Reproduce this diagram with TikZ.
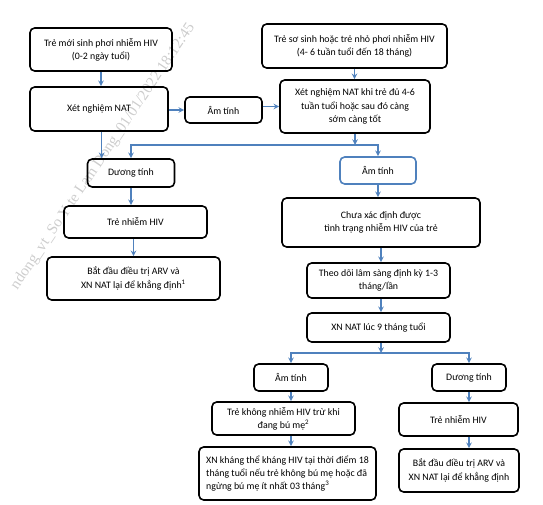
\documentclass[tikz,border=0pt]{standalone}
\usepackage{fontspec}
\setmainfont{Carlito}
\newfontfamily\wmfont{Liberation Serif}
\usepackage{tikz}
\usetikzlibrary{arrows,positioning}
\definecolor{arrowblue}{RGB}{79,129,189}
\definecolor{wmgray}{RGB}{205,205,205}

\begin{document}
\begin{tikzpicture}
	[x=0.75pt, y=-0.75pt, inner sep=0pt,
	font=\fontsize{7.4}{10}\selectfont,
	stepbox/.style	= {rectangle, rounded corners=3.5pt, draw, line width=1.2pt, align=center},
	bluebox/.style	= {stepbox, draw=arrowblue},
	paths/.style	= {->, >=stealth, draw=arrowblue, line width=0.9pt},
	watermark/.style	= {text=wmgray, rotate=56, font=\wmfont\fontsize{11.5}{12}\selectfont}]
	
	\useasboundingbox (0, 0) rectangle (543, 504);
	
	\node at (195, 27)	[watermark, anchor=base east]	(wm)	{ndong\_vt\_So Y te Lam Dong\_01/01/2022 18:12:45};
	
	\node at (101, 49.5)	[stepbox, minimum width=106.5pt, minimum height=32.25pt]	(treA)	{Trẻ mới sinh phơi nhiễm HIV\\(0-2 ngày tuổi)};
	\node at (99, 109)	[stepbox, minimum width=103.5pt, minimum height=33pt]	(natA)	{Xét nghiệm NAT};
	\node at (223.5, 110)	[stepbox, minimum width=57.75pt, minimum height=19.5pt]	(amA)	{Âm tính};
	
	\node at (354.5, 46)	[stepbox, minimum width=138.75pt, minimum height=33pt]	(treB)	{Trẻ sơ sinh hoặc trẻ nhỏ phơi nhiễm HIV\\(4- 6 tuần tuổi đến 18 tháng)};
	\node at (355, 106.5)	[stepbox, minimum width=112.5pt, minimum height=39.75pt]	(natB)	{Xét nghiệm NAT khi trẻ đủ 4-6\\tuần tuổi hoặc sau đó càng\\sớm càng tốt};
	
	\node at (131, 173)	[stepbox, minimum width=65.25pt, minimum height=21pt]	(duongA)	{Dương tính};
	\node at (135.5, 222)	[stepbox, minimum width=107.25pt, minimum height=24pt]	(nhiemA)	{Trẻ nhiễm HIV};
	\node at (133.5, 278.5)	[stepbox, minimum width=129.75pt, minimum height=32.25pt]	(batdauA)	{Bắt đầu điều trị ARV và\\XN NAT lại để khẳng định\textsuperscript{1}};
	
	\node at (378, 170.5)	[bluebox, minimum width=57pt, minimum height=20.25pt]	(amB)	{Âm tính};
	\node at (381, 222.5)	[stepbox, minimum width=148.5pt, minimum height=36.75pt]	(chuaxd)	{Chưa xác định được\\tình trạng nhiễm HIV của trẻ};
	\node at (378.5, 280.5)	[stepbox, minimum width=107.25pt, minimum height=26.25pt]	(theodoi)	{Theo dõi lâm sàng định kỳ 1-3\\tháng/lần};
	\node at (378.5, 327.5)	[stepbox, minimum width=107.25pt, minimum height=21.75pt]	(xn9)	{XN NAT lúc 9 tháng tuổi};
	
	\node at (291, 377.5)	[stepbox, minimum width=55.5pt, minimum height=20.25pt]	(amC)	{Âm tính};
	\node at (283.5, 418.5)	[stepbox, minimum width=107.25pt, minimum height=24.75pt]	(khongnhiem)	{Trẻ không nhiễm HIV trừ khi\\đang bú mẹ\textsuperscript{2}};
	\node at (287.5, 473.5)	[stepbox, align=left, minimum width=132.75pt, minimum height=39.75pt]	(xnkt)	{XN kháng thể kháng HIV tại thời điểm 18\\tháng tuổi nếu trẻ không bú mẹ hoặc đã\\ngừng bú mẹ ít nhất 03 tháng\textsuperscript{3}};
	
	\node at (469, 377.5)	[stepbox, minimum width=55.5pt, minimum height=20.25pt]	(duongC)	{Dương tính};
	\node at (458.5, 419.5)	[stepbox, minimum width=89.25pt, minimum height=24.75pt]	(nhiemC)	{Trẻ nhiễm HIV};
	\node at (459, 470.5)	[stepbox, minimum width=90pt, minimum height=32.25pt]	(batdauC)	{Bắt đầu điều trị ARV và\\XN NAT lại để khẳng định};
	
	\coordinate (j1) at (355, 145);
	\coordinate (j2) at (381, 353);
	
	\draw [paths] (treA.south) -- (treA.south |- natA.north);
	\draw [paths] (natA.east |- amA.west) -- (amA.west);
	\draw [paths] (amA.east |- natB.west) -- (natB.west);
	\draw [paths] (treB.south) -- (treB.south |- natB.north);
	\draw [paths] ([xshift=2pt]natA.south) -- ([xshift=2pt]natA.south |- duongA.north);
	
	\draw [paths] (natB.south) -- (j1);
	\draw [paths] (j1) -| (duongA.north);
	\draw [paths] (j1) -| (amB.north);
	
	\draw [paths] (duongA.south) -- (duongA.south |- nhiemA.north);
	\draw [paths] (batdauA.north |- nhiemA.south) -- (batdauA.north);
	
	\draw [paths] (amB.south) -- (amB.south |- chuaxd.north);
	\draw [paths] (chuaxd.south) -- (chuaxd.south |- theodoi.north);
	\draw [paths] (chuaxd.south |- theodoi.south) -- (chuaxd.south |- xn9.north);
	\draw [paths] (chuaxd.south |- xn9.south) -- (j2);
	\draw [paths] (j2) -| (amC.north);
	\draw [paths] (j2) -| (duongC.north);
	
	\draw [paths] (amC.south) -- (amC.south |- khongnhiem.north);
	\draw [paths] (amC.south |- khongnhiem.south) -- (amC.south |- xnkt.north);
	\draw [paths] (duongC.south) -- (duongC.south |- nhiemC.north);
	\draw [paths] (duongC.south |- nhiemC.south) -- (duongC.south |- batdauC.north);
	\end{tikzpicture}
\end{document}
